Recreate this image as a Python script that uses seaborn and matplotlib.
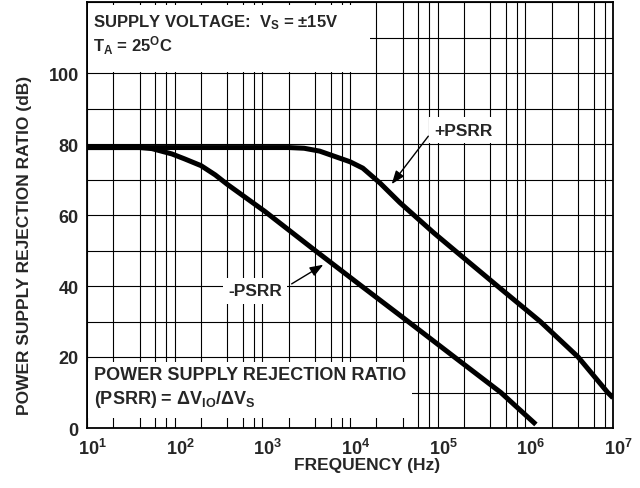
import matplotlib
matplotlib.use("Agg")
import matplotlib.pyplot as plt
from matplotlib.patches import Rectangle
from matplotlib.transforms import ScaledTranslation
from matplotlib.ticker import LogLocator, FixedLocator, NullFormatter, LogFormatterSciNotation
import pandas as pd
import seaborn as sns

# +PSRR curve (frequency in Hz, rejection in dB)
pos_freq = [10, 100, 1000, 2000, 3000, 4500, 10000, 14000, 22000, 37000,
            90000, 157000, 480000, 1.48e6, 4.0e6, 8.7e6, 1.0e7]
pos_db = [79, 79, 79, 79, 78.8, 78, 75, 73.2, 69, 63.5,
          55, 50, 40, 30, 20, 10, 8.5]

# -PSRR curve
neg_freq = [10, 40, 55, 93, 130, 200, 290, 400, 1070, 4000, 13500, 46000,
            155000, 525000, 1.32e6]
neg_db = [79, 79, 78.7, 77.2, 75.8, 73.9, 71.3, 68.6, 61, 50, 40, 30,
          20, 10, 1]

x_decades = [1e1, 1e2, 1e3, 1e4, 1e5, 1e6, 1e7]
y_major = [0, 20, 40, 60, 80, 100]
y_minor = [10, 30, 50, 70, 90, 110, 120]

df = pd.concat([
    pd.DataFrame({"freq": pos_freq, "psrr": pos_db, "curve": "+PSRR"}),
    pd.DataFrame({"freq": neg_freq, "psrr": neg_db, "curve": "-PSRR"}),
], ignore_index=True)

sns.set_style("white")
plt.rcParams["font.family"] = ["Liberation Sans", "DejaVu Sans"]
plt.rcParams["font.weight"] = "bold"
plt.rcParams["axes.labelweight"] = "bold"
plt.rcParams["mathtext.default"] = "regular"

fig = plt.figure(figsize=(6.4, 4.89), dpi=100)
ax = fig.add_axes([87 / 640, 1 - 429 / 489, (613 - 87) / 640, (429 - 3) / 489])
ax.set_xscale("log")

sns.lineplot(data=df, x="freq", y="psrr", hue="curve",
             palette={"+PSRR": "black", "-PSRR": "black"},
             linewidth=3.6, legend=False, estimator=None, sort=False,
             ax=ax, zorder=3)
for ln in ax.lines:
    ln.set_solid_capstyle("butt")
    ln.set_solid_joinstyle("round")

ax.set_xlim(10, 1e7)
ax.set_ylim(0, 120)

ax.xaxis.set_major_locator(FixedLocator(x_decades))
ax.xaxis.set_minor_locator(LogLocator(base=10, subs=[2, 4, 6, 8], numticks=20))
ax.xaxis.set_major_formatter(LogFormatterSciNotation())
ax.xaxis.set_minor_formatter(NullFormatter())
ax.yaxis.set_major_locator(FixedLocator(y_major))
ax.yaxis.set_minor_locator(FixedLocator(y_minor))

ax.set_axisbelow(True)
ax.grid(which="both", color="black", linewidth=0.8)
ax.tick_params(which="both", length=0)
ax.tick_params(axis="x", pad=7, labelsize=13)
ax.tick_params(axis="y", pad=6, labelsize=13)
for s in ax.spines.values():
    s.set_linewidth(1.3)
    s.set_color("black")

# centre the mantissa "10" on each decade line rather than the whole label
shift = ScaledTranslation(4 / 72, 0, fig.dpi_scale_trans)
for lbl in ax.get_xticklabels():
    lbl.set_transform(lbl.get_transform() + shift)

ax.set_xlabel("FREQUENCY (Hz)", fontsize=12.5)
ax.xaxis.set_label_coords(0.532, -0.068)
ax.set_ylabel("POWER SUPPLY REJECTION RATIO (dB)", fontsize=12.5)
ax.yaxis.set_label_coords(-0.104, 0.43)

# white panels behind the notes
ax.add_patch(Rectangle((0.002, 0.836), 0.536, 0.156, transform=ax.transAxes,
                       facecolor="white", edgecolor="none", zorder=1.5))
ax.add_patch(Rectangle((0.002, 0.023), 0.616, 0.132, transform=ax.transAxes,
                       facecolor="white", edgecolor="none", zorder=1.5))

ax.text(0.012, 0.955, "SUPPLY VOLTAGE:  V$_S$ = ±15V", transform=ax.transAxes,
        fontsize=12, fontweight="bold", va="center", ha="left", zorder=4)
ax.text(0.012, 0.899, "T$_A$ = 25$^O$C", transform=ax.transAxes,
        fontsize=12, fontweight="bold", va="center", ha="left", zorder=4)
ax.text(0.013, 0.126, "POWER SUPPLY REJECTION RATIO", transform=ax.transAxes,
        fontsize=13, fontweight="bold", va="center", ha="left", zorder=4)
ax.text(0.013, 0.07, "(PSRR) = ΔV$_{IO}$/ΔV$_S$", transform=ax.transAxes,
        fontsize=13, fontweight="bold", va="center", ha="left", zorder=4)

box = dict(boxstyle="square,pad=0.3", facecolor="white", edgecolor="none")
arrow = dict(arrowstyle="-|>,head_length=0.8,head_width=0.3", color="black",
             linewidth=1.0, shrinkA=0, shrinkB=0)
ax.annotate("", xy=(29900, 68.7), xytext=(78200, 82.2), arrowprops=arrow, zorder=4)
ax.text(194500, 83.9, "+PSRR", fontsize=12.5, fontweight="bold",
        ha="center", va="center", bbox=box, zorder=4)
ax.annotate("", xy=(4960, 46.0), xytext=(2160, 40.6), arrowprops=arrow, zorder=4)
ax.text(824, 38.6, "-PSRR", fontsize=12.5, fontweight="bold",
        ha="center", va="center", bbox=box, zorder=4)

fig.savefig("out.png", dpi=100)
